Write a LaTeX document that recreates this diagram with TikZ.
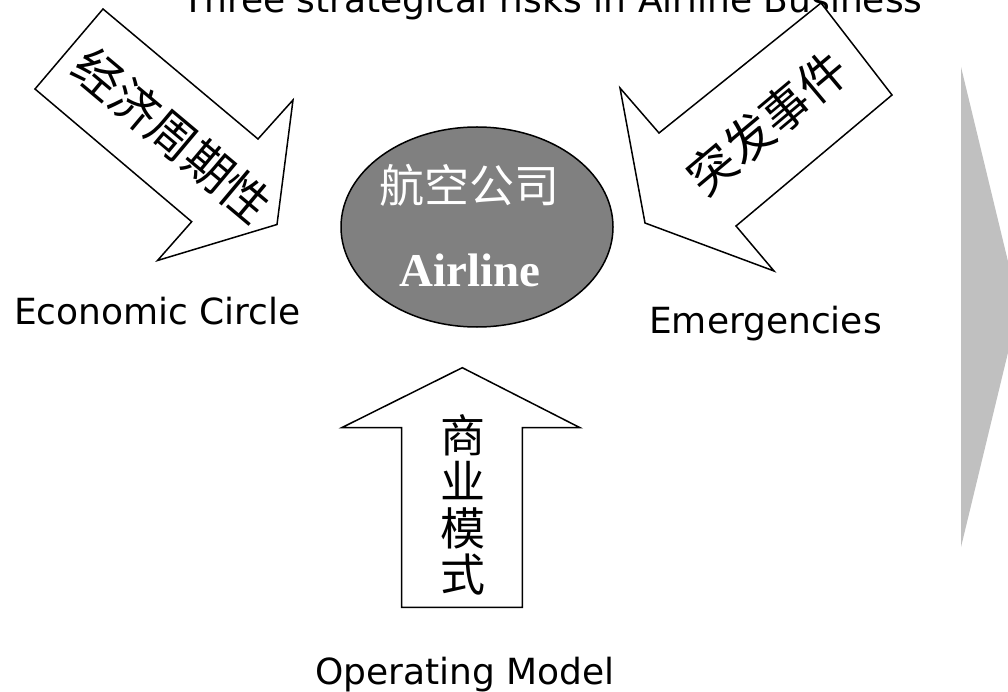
\documentclass[tikz,border=0pt]{standalone}
\usepackage{fontspec}
\setmainfont{Liberation Serif}
\newfontfamily\labfont{DejaVu Sans}
\newfontfamily\cjkf{Noto Sans CJK SC}
\usetikzlibrary{shapes.geometric}
\definecolor{ellgray}{RGB}{128,128,128}
\definecolor{sidegray}{RGB}{192,192,192}
\begin{document}
\begin{tikzpicture}[x=1pt,y=-1pt,
  arrowshape/.style={draw=black,fill=white,line width=1.5pt,line join=miter},
  lab/.style={font=\labfont\fontsize{36}{40}\selectfont,anchor=base,inner sep=0pt},
  cjklab/.style={font=\cjkf\fontsize{48}{50}\selectfont,inner sep=0pt,text=black}]
\useasboundingbox (0,0) rectangle (1008,692);
\clip (0,0) rectangle (1008,692);
\fill[white] (0,0) rectangle (1008,692);
% grey side chevron
\fill[sidegray] (961,67) -- (1019,307) -- (961,547) -- cycle;
% title
\node[lab] (title) at (552.5,13) {Three strategical risks in Airline Business};
% left arrow
\draw[arrowshape] (103,9) -- (258,139) -- (293,100) -- (277,224.5) -- (157.5,260.5) -- (191.7,221.7) -- (35,89) -- cycle;
\node[cjklab,rotate=-40] (econcn) at (172.5,135.5) {经济周期性};
% right arrow
\draw[arrowshape] (821,3) -- (892,95) -- (736,226) -- (774,271) -- (645,223) -- (620,88) -- (659,133) -- cycle;
\node[cjklab,rotate=40] (emercn) at (767,123) {突发事件};
% bottom arrow
\draw[arrowshape] (462.3,367.7) -- (580,427.7) -- (522.3,427.7) -- (522.3,607.3) -- (401.7,607.3) -- (401.7,427.7) -- (341.7,427.7) -- cycle;
\node[cjklab,align=center,font=\cjkf\fontsize{45}{46.5}\selectfont] (opcn) at (463,505) {商\\业\\模\\式};
% ellipse
\node[ellipse,draw=black,fill=ellgray,line width=1.5pt,minimum width=272pt,minimum height=200pt,inner sep=0pt] (airline) at (477,227) {};
\node[font=\cjkf\fontsize{45}{48}\selectfont,text=white,inner sep=0pt] (airlinecn) at (469,185) {航空公司};
\node[font=\bfseries\fontsize{47}{50}\selectfont,text=white,anchor=base,inner sep=0pt] (airlineen) at (470,287) {Airline};
% labels
\node[lab] (econ) at (157.5,324) {Economic Circle};
\node[lab] (emer) at (765.5,333) {Emergencies};
\node[lab] (oper) at (465,684) {Operating Model};
\end{tikzpicture}
\end{document}
